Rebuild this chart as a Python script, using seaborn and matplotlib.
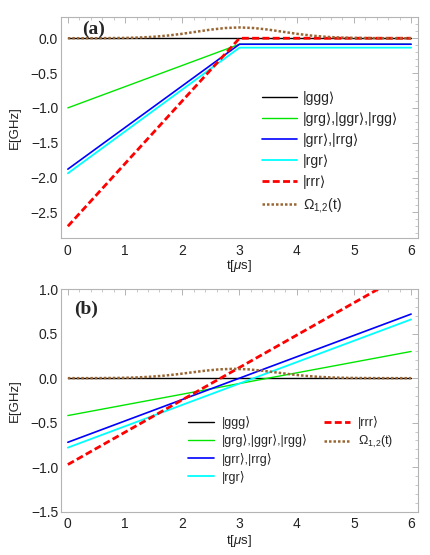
import matplotlib
matplotlib.use('Agg')
import matplotlib.pyplot as plt
from matplotlib.lines import Line2D
from matplotlib.ticker import MultipleLocator
import pandas as pd
import seaborn as sns

# panel (a): levels are piecewise linear, knots at t = 0, 3, 6
t_knots = [0, 3, 6]
a_ggg = [0.0, 0.0, 0.0]
a_grg = [-1.0, -0.086, -0.086]
a_grr = [-1.88, -0.086, -0.086]
a_rgr = [-1.94, -0.135, -0.135]
a_rrr = [-2.70, 0.0, 0.0]

# pulse in (a)
a_om_t = [0, 0.5, 1.0, 1.25, 1.5, 1.75, 2.0, 2.25, 2.5, 2.75, 3.0,
          3.25, 3.5, 3.75, 4.0, 4.25, 4.5, 4.75, 5.0, 5.5, 6]
a_om = [0, 0.0006, 0.0044, 0.0102, 0.021, 0.0387, 0.0637, 0.094, 0.1241, 0.1466, 0.155,
        0.1466, 0.1241, 0.094, 0.0637, 0.0387, 0.021, 0.0102, 0.0044, 0.0006, 0]

# panel (b): straight lines, values at t = 0 and t = 6
t_ends = [0, 6]
b_ggg = [0.0, 0.0]
b_grg = [-0.42, 0.30]
b_grr = [-0.72, 0.72]
b_rgr = [-0.78, 0.66]
b_rrr = [-0.97, 1.21]

b_om_t = [0, 0.4, 0.9, 1.15, 1.4, 1.65, 1.9, 2.15, 2.4, 2.65, 2.9,
          3.15, 3.4, 3.65, 3.9, 4.15, 4.4, 4.65, 4.9, 5.4, 6]
b_om = [0, 0.0004, 0.003, 0.0069, 0.0142, 0.0262, 0.0431, 0.0637, 0.084, 0.0993, 0.105,
        0.0993, 0.084, 0.0637, 0.0431, 0.0262, 0.0142, 0.0069, 0.003, 0.0004, 0]

labels = ['|ggg⟩', '|grg⟩,|ggr⟩,|rgg⟩', '|grr⟩,|rrg⟩', '|rgr⟩', '|rrr⟩', 'Ω$_{1,\\!2}$(t)']
colors = ['#000000', '#00e600', '#0000ff', '#00ffff', '#ff0000', '#996633']
styles = ['-', '-', '-', '-', (0, (2.5, 1.2)), (0, (1, 0.8))]
widths = [1.0, 1.0, 1.2, 1.3, 2.0, 1.8]

sns.set_style('white')
plt.rcParams['font.family'] = ['Liberation Sans', 'DejaVu Sans']
plt.rcParams['mathtext.fontset'] = 'custom'
plt.rcParams['mathtext.rm'] = 'Liberation Sans'
plt.rcParams['mathtext.it'] = 'Liberation Sans:italic'

fig = plt.figure(figsize=(4.31, 5.55), dpi=100)
ax_a = fig.add_axes([0.1415, 0.571, 0.8283, 0.399])
ax_b = fig.add_axes([0.1415, 0.078, 0.8283, 0.401])


def draw(ax, t_lines, lines, om_t, om):
    for i, y in enumerate(lines):
        df = pd.DataFrame({'t': t_lines, 'E': y})
        sns.lineplot(data=df, x='t', y='E', ax=ax, color=colors[i], linestyle=styles[i],
                     lw=widths[i], label=labels[i], legend=False)
    df = pd.DataFrame({'t': om_t, 'E': om})
    sns.lineplot(data=df, x='t', y='E', ax=ax, color=colors[5], linestyle=styles[5],
                 lw=widths[5], label=labels[5], legend=False)


def frame(ax, ylim):
    ax.set_xlim(-0.12, 6.12)
    ax.set_ylim(*ylim)
    ax.xaxis.set_major_locator(MultipleLocator(1))
    ax.xaxis.set_minor_locator(MultipleLocator(0.2))
    ax.yaxis.set_major_locator(MultipleLocator(0.5))
    ax.yaxis.set_minor_locator(MultipleLocator(0.1))
    ax.yaxis.set_major_formatter(lambda v, p: f'{v:.1f}'.replace('-', '−'))
    for s in ax.spines.values():
        s.set_color('#b4b4b4')
        s.set_linewidth(0.8)
    ax.tick_params(which='both', direction='in', top=True, right=True,
                   color='#b4b4b4', labelcolor='#222222', labelsize=10)
    ax.tick_params(which='major', length=4, width=0.7)
    ax.tick_params(which='minor', length=2, width=0.5)
    ax.tick_params(axis='y', pad=2)
    ax.tick_params(axis='x', pad=4)
    ax.set_xlabel('t[$\\mu$s]', fontsize=9.5, color='#222222')
    ax.set_ylabel('E[GHz]', fontsize=9.5, color='#222222')
    ax.yaxis.set_label_coords(-0.112, 0.5)


draw(ax_a, t_knots, [a_ggg, a_grg, a_grr, a_rgr, a_rrr], a_om_t, a_om)
frame(ax_a, (-2.87, 0.31))
ax_a.xaxis.set_label_coords(0.5, -0.092)
ax_a.text(0.058, 0.944, '(a)', transform=ax_a.transAxes, va='center', ha='left',
          fontsize=14, fontweight='bold', family='Liberation Serif')
ax_a.legend(loc='upper left', bbox_to_anchor=(0.563, 0.665), frameon=False,
            fontsize=10, borderpad=0, borderaxespad=0, handlelength=2.5,
            handletextpad=0.45, labelspacing=0.5)

draw(ax_b, t_ends, [b_ggg, b_grg, b_grr, b_rgr, b_rrr], b_om_t, b_om)
frame(ax_b, (-1.5, 1.0))
ax_b.xaxis.set_label_coords(0.5, -0.096)
ax_b.text(0.036, 0.909, '(b)', transform=ax_b.transAxes, va='center', ha='left',
          fontsize=14, fontweight='bold', family='Liberation Serif')
h, l = ax_b.get_legend_handles_labels()
blank = Line2D([], [], linestyle='none')
hh = h + [blank, blank]
ll = l + ['', '']
ax_b.legend(hh, ll, ncol=2, loc='upper left', bbox_to_anchor=(0.356, 0.43),
            frameon=False, fontsize=9, borderpad=0, borderaxespad=0,
            handlelength=2.1, handletextpad=0.6, labelspacing=0.42, columnspacing=1.3)

fig.savefig('out.png', dpi=100)
